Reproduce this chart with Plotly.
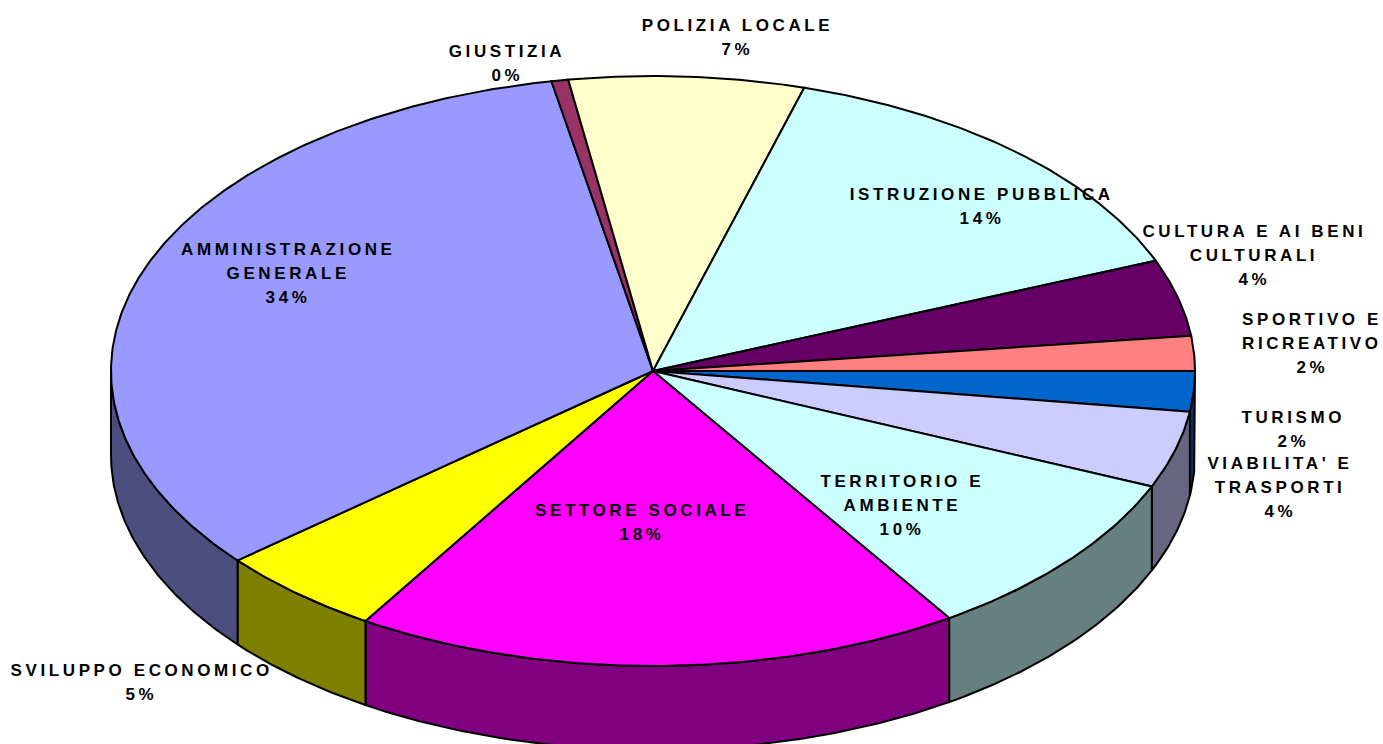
import numpy as np
import plotly.graph_objects as go

# Data: clockwise from the 3 o'clock position
categories = ["TURISMO", "VIABILITA' E TRASPORTI", "TERRITORIO E AMBIENTE", "SETTORE SOCIALE",
              "SVILUPPO ECONOMICO", "AMMINISTRAZIONE GENERALE", "GIUSTIZIA", "POLIZIA LOCALE",
              "ISTRUZIONE PUBBLICA", "CULTURA E AI BENI CULTURALI", "SPORTIVO E RICREATIVO"]
shares = [2.2, 4.2, 9.4, 18.1, 5.0, 33.1, 0.5, 7.0, 14.4, 4.2, 1.9]
percent_labels = ["2%", "4%", "10%", "18%", "5%", "34%", "0%", "7%", "14%", "4%", "2%"]
name_lines = [["TURISMO"], ["VIABILITA' E", "TRASPORTI"], ["TERRITORIO E", "AMBIENTE"], ["SETTORE SOCIALE"],
              ["SVILUPPO ECONOMICO"], ["AMMINISTRAZIONE", "GENERALE"], ["GIUSTIZIA"], ["POLIZIA LOCALE"],
              ["ISTRUZIONE PUBBLICA"], ["CULTURA E AI BENI", "CULTURALI"], ["SPORTIVO E", "RICREATIVO"]]

# Styles
top_colors = ["#0066CC", "#CCCCFF", "#CCFFFF", "#FF00FF", "#FFFF00", "#9999FF",
              "#993366", "#FFFFCC", "#CCFFFF", "#660066", "#FF8080"]
wall_colors = ["#003366", "#666680", "#668080", "#800080", "#808000", "#4D4D80",
               "#4D1A33", "#808066", "#668080", "#330033", "#804040"]

# Layout in pixels of the page
W, H = 1383, 744
CX, CY, RX, RY, DEPTH = 653, 371, 542, 295, 84
LINE_GAP = 24
label_anchor_px = [(1293, 417), (1280, 463), (902, 481), (642, 510), (141, 670), (288, 249),
                   (507, 51), (737, 25), (982, 194), (1254, 231), (1312, 319)]

depth = DEPTH / RY
total = sum(shares)
edges = -np.cumsum([0] + shares) / total * 2 * np.pi  # clockwise from east

fig = go.Figure()


def arc(a0, a1):
    n = max(int(abs(a1 - a0) / np.radians(0.5)), 2) + 1
    return np.linspace(a0, a1, n)


# Side walls: only the part of each slice on the front half of the ellipse
for i in range(len(shares)):
    a1, a0 = edges[i], edges[i + 1]  # a0 < a1
    lo, hi = max(a0, -np.pi), min(a1, 0)
    if lo >= hi:
        continue
    t = arc(lo, hi)
    xs = np.concatenate([np.cos(t), np.cos(t[::-1]), [np.cos(t[0])]])
    ys = np.concatenate([np.sin(t), np.sin(t[::-1]) - depth, [np.sin(t[0])]])
    fig.add_trace(go.Scatter(x=xs, y=ys, mode="lines", fill="toself", fillcolor=wall_colors[i],
                             line=dict(color="black", width=2), hoverinfo="skip", showlegend=False))

# Top surface
for i in range(len(shares)):
    t = arc(edges[i], edges[i + 1])
    xs = np.concatenate([[0], np.cos(t), [0]])
    ys = np.concatenate([[0], np.sin(t), [0]])
    fig.add_trace(go.Scatter(x=xs, y=ys, mode="lines", fill="toself", fillcolor=top_colors[i],
                             line=dict(color="black", width=2), hoverinfo="skip", showlegend=False))

# Labels, one annotation per line for the chart's wide line spacing
annotations = []
for lines, pct, (px, py) in zip(name_lines, percent_labels, label_anchor_px):
    for k, text in enumerate(lines + [pct]):
        annotations.append(dict(
            x=(px - CX) / RX, y=(CY - (py + k * LINE_GAP)) / RY, text=text, showarrow=False,
            xanchor="center", yanchor="middle",
            font=dict(family="Liberation Sans", size=17, color="black", weight="bold")))

fig.update_layout(
    width=W, height=H, margin=dict(l=0, r=0, t=0, b=0),
    paper_bgcolor="white", plot_bgcolor="white", showlegend=False, hovermode=False,
    xaxis=dict(range=[-CX / RX, (W - CX) / RX], visible=False, fixedrange=True),
    yaxis=dict(range=[(CY - H) / RY, CY / RY], visible=False, fixedrange=True),
    annotations=annotations,
)

page_fix = ("document.body.style.margin='0';document.body.style.overflow='hidden';"
            "document.querySelectorAll('.annotation-text').forEach(function(t){t.style.letterSpacing='3.6px';});")
fig.write_html("out.html", config={"displayModeBar": False}, post_script=page_fix)
